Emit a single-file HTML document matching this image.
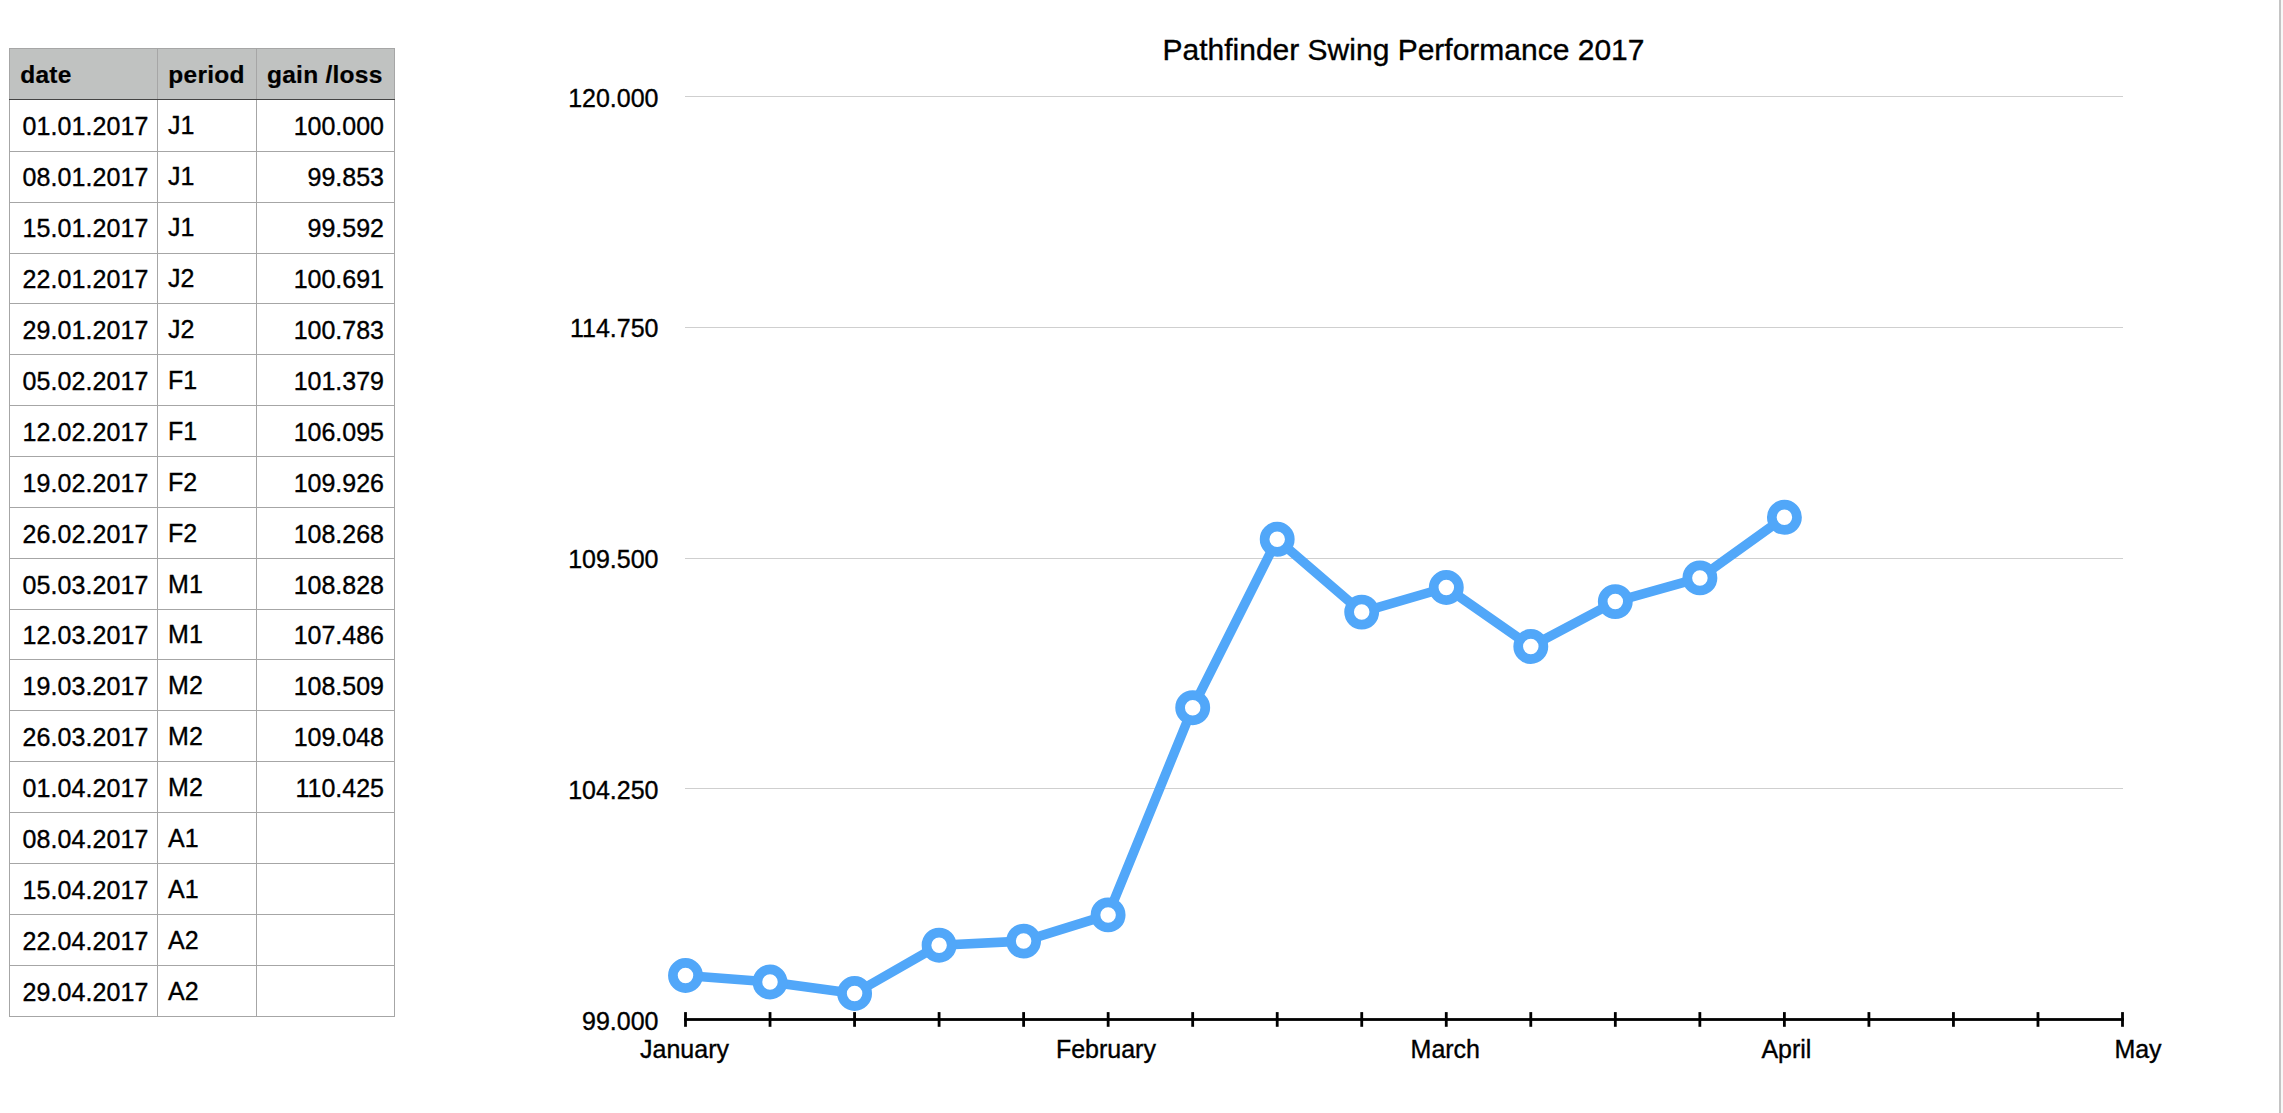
<!DOCTYPE html>
<html lang="en"><head><meta charset="utf-8"><title>Pathfinder Swing Performance 2017</title>
<style>
html,body{margin:0;padding:0;background:#fff;}
body{width:2283px;height:1113px;overflow:hidden;position:relative;font-family:"Liberation Sans",sans-serif;}
svg{position:absolute;left:0;top:0;display:block;}
text{font-family:"Liberation Sans",sans-serif;fill:#000;stroke:#000;stroke-width:.35px;}
.t{font-size:25px;}
.d{font-size:25px;letter-spacing:.1px;}
.h{font-size:24.5px;font-weight:bold;letter-spacing:.25px;stroke-width:.2px;}
.a{font-size:25px;}
.ttl{font-size:30px;}
</style></head><body>
<svg width="2283" height="1113" viewBox="0 0 2283 1113">

<rect x="2279" y="0" width="2" height="1113" fill="#c4c4c4"/><rect x="2281" y="0" width="2" height="1113" fill="#f7f7f7"/>
<g shape-rendering="crispEdges">
<rect x="9" y="48" width="386" height="52" fill="#c0c2c1"/>
<rect x="9" y="151" width="386" height="1" fill="#a6a6a6"/>
<rect x="9" y="202" width="386" height="1" fill="#a6a6a6"/>
<rect x="9" y="253" width="386" height="1" fill="#a6a6a6"/>
<rect x="9" y="303" width="386" height="1" fill="#a6a6a6"/>
<rect x="9" y="354" width="386" height="1" fill="#a6a6a6"/>
<rect x="9" y="405" width="386" height="1" fill="#a6a6a6"/>
<rect x="9" y="456" width="386" height="1" fill="#a6a6a6"/>
<rect x="9" y="507" width="386" height="1" fill="#a6a6a6"/>
<rect x="9" y="558" width="386" height="1" fill="#a6a6a6"/>
<rect x="9" y="609" width="386" height="1" fill="#a6a6a6"/>
<rect x="9" y="659" width="386" height="1" fill="#a6a6a6"/>
<rect x="9" y="710" width="386" height="1" fill="#a6a6a6"/>
<rect x="9" y="761" width="386" height="1" fill="#a6a6a6"/>
<rect x="9" y="812" width="386" height="1" fill="#a6a6a6"/>
<rect x="9" y="863" width="386" height="1" fill="#a6a6a6"/>
<rect x="9" y="914" width="386" height="1" fill="#a6a6a6"/>
<rect x="9" y="965" width="386" height="1" fill="#a6a6a6"/>
<rect x="9" y="1016" width="386" height="1" fill="#a6a6a6"/>
<rect x="9" y="48" width="1" height="969" fill="#a6a6a6"/>
<rect x="157" y="48" width="1" height="969" fill="#a6a6a6"/>
<rect x="256" y="48" width="1" height="969" fill="#a6a6a6"/>
<rect x="394" y="48" width="1" height="969" fill="#a6a6a6"/>
<rect x="9" y="48" width="386" height="1" fill="#a6a6a6"/>
<rect x="9" y="99" width="386" height="1" fill="#444"/>
</g>
<text class="h" x="20.2" y="82.8">date</text>
<text class="h" x="168.3" y="82.8">period</text>
<text class="h" x="267.0" y="82.8">gain /loss</text>
<text class="d" x="22.4" y="135.2">01.01.2017</text>
<text class="t" x="168.1" y="134.2">J1</text>
<text class="t" x="384.0" y="135.2" text-anchor="end">100.000</text>
<text class="d" x="22.4" y="186.1">08.01.2017</text>
<text class="t" x="168.1" y="185.1">J1</text>
<text class="t" x="384.0" y="186.1" text-anchor="end">99.853</text>
<text class="d" x="22.4" y="237.0">15.01.2017</text>
<text class="t" x="168.1" y="236.0">J1</text>
<text class="t" x="384.0" y="237.0" text-anchor="end">99.592</text>
<text class="d" x="22.4" y="288.0">22.01.2017</text>
<text class="t" x="168.1" y="287.0">J2</text>
<text class="t" x="384.0" y="288.0" text-anchor="end">100.691</text>
<text class="d" x="22.4" y="338.9">29.01.2017</text>
<text class="t" x="168.1" y="337.9">J2</text>
<text class="t" x="384.0" y="338.9" text-anchor="end">100.783</text>
<text class="d" x="22.4" y="389.8">05.02.2017</text>
<text class="t" x="168.1" y="388.8">F1</text>
<text class="t" x="384.0" y="389.8" text-anchor="end">101.379</text>
<text class="d" x="22.4" y="440.7">12.02.2017</text>
<text class="t" x="168.1" y="439.7">F1</text>
<text class="t" x="384.0" y="440.7" text-anchor="end">106.095</text>
<text class="d" x="22.4" y="491.6">19.02.2017</text>
<text class="t" x="168.1" y="490.6">F2</text>
<text class="t" x="384.0" y="491.6" text-anchor="end">109.926</text>
<text class="d" x="22.4" y="542.6">26.02.2017</text>
<text class="t" x="168.1" y="541.6">F2</text>
<text class="t" x="384.0" y="542.6" text-anchor="end">108.268</text>
<text class="d" x="22.4" y="593.5">05.03.2017</text>
<text class="t" x="168.1" y="592.5">M1</text>
<text class="t" x="384.0" y="593.5" text-anchor="end">108.828</text>
<text class="d" x="22.4" y="644.4">12.03.2017</text>
<text class="t" x="168.1" y="643.4">M1</text>
<text class="t" x="384.0" y="644.4" text-anchor="end">107.486</text>
<text class="d" x="22.4" y="695.3">19.03.2017</text>
<text class="t" x="168.1" y="694.3">M2</text>
<text class="t" x="384.0" y="695.3" text-anchor="end">108.509</text>
<text class="d" x="22.4" y="746.2">26.03.2017</text>
<text class="t" x="168.1" y="745.2">M2</text>
<text class="t" x="384.0" y="746.2" text-anchor="end">109.048</text>
<text class="d" x="22.4" y="797.2">01.04.2017</text>
<text class="t" x="168.1" y="796.2">M2</text>
<text class="t" x="384.0" y="797.2" text-anchor="end">110.425</text>
<text class="d" x="22.4" y="848.1">08.04.2017</text>
<text class="t" x="168.1" y="847.1">A1</text>
<text class="d" x="22.4" y="899.0">15.04.2017</text>
<text class="t" x="168.1" y="898.0">A1</text>
<text class="d" x="22.4" y="949.9">22.04.2017</text>
<text class="t" x="168.1" y="948.9">A2</text>
<text class="d" x="22.4" y="1000.8">29.04.2017</text>
<text class="t" x="168.1" y="999.8">A2</text>
<text class="ttl" x="1403.5" y="59.5" text-anchor="middle">Pathfinder Swing Performance 2017</text>
<g shape-rendering="crispEdges">
<rect x="685" y="96" width="1438" height="1" fill="#cfcfcf"/>
<rect x="685" y="327" width="1438" height="1" fill="#cfcfcf"/>
<rect x="685" y="558" width="1438" height="1" fill="#cfcfcf"/>
<rect x="685" y="788" width="1438" height="1" fill="#cfcfcf"/>
</g>
<rect x="684.1" y="1018.1" width="1439.8" height="2.8" fill="#000"/>
<rect x="684.10" y="1012.1" width="2.8" height="14.7" fill="#000"/>
<rect x="768.63" y="1012.1" width="2.8" height="14.7" fill="#000"/>
<rect x="853.16" y="1012.1" width="2.8" height="14.7" fill="#000"/>
<rect x="937.69" y="1012.1" width="2.8" height="14.7" fill="#000"/>
<rect x="1022.22" y="1012.1" width="2.8" height="14.7" fill="#000"/>
<rect x="1106.75" y="1012.1" width="2.8" height="14.7" fill="#000"/>
<rect x="1191.28" y="1012.1" width="2.8" height="14.7" fill="#000"/>
<rect x="1275.81" y="1012.1" width="2.8" height="14.7" fill="#000"/>
<rect x="1360.34" y="1012.1" width="2.8" height="14.7" fill="#000"/>
<rect x="1444.86" y="1012.1" width="2.8" height="14.7" fill="#000"/>
<rect x="1529.39" y="1012.1" width="2.8" height="14.7" fill="#000"/>
<rect x="1613.92" y="1012.1" width="2.8" height="14.7" fill="#000"/>
<rect x="1698.45" y="1012.1" width="2.8" height="14.7" fill="#000"/>
<rect x="1782.98" y="1012.1" width="2.8" height="14.7" fill="#000"/>
<rect x="1867.51" y="1012.1" width="2.8" height="14.7" fill="#000"/>
<rect x="1952.04" y="1012.1" width="2.8" height="14.7" fill="#000"/>
<rect x="2036.57" y="1012.1" width="2.8" height="14.7" fill="#000"/>
<rect x="2121.10" y="1012.1" width="2.8" height="14.7" fill="#000"/>
<text class="a" x="658.5" y="106.5" text-anchor="end">120.000</text>
<text class="a" x="658.5" y="337.2" text-anchor="end">114.750</text>
<text class="a" x="658.5" y="568.0" text-anchor="end">109.500</text>
<text class="a" x="658.5" y="798.8" text-anchor="end">104.250</text>
<text class="a" x="658.5" y="1029.5" text-anchor="end">99.000</text>
<text class="a" x="684.5" y="1057.6" text-anchor="middle">January</text>
<text class="a" x="1105.9" y="1057.6" text-anchor="middle">February</text>
<text class="a" x="1445.3" y="1057.6" text-anchor="middle">March</text>
<text class="a" x="1786.4" y="1057.6" text-anchor="middle">April</text>
<text class="a" x="2138" y="1057.6" text-anchor="middle">May</text>
<polyline fill="none" stroke="#51a7f9" stroke-width="9.5" stroke-linejoin="round" points="685.5,975.5 770.0,982.0 854.6,993.5 939.1,945.2 1023.6,941.1 1108.1,914.9 1192.7,707.7 1277.2,539.3 1361.7,612.1 1446.3,587.5 1530.8,646.5 1615.3,601.6 1699.9,577.9 1784.4,517.3"/>
<circle cx="685.5" cy="975.5" r="12.6" fill="#fff" stroke="#51a7f9" stroke-width="9.7"/>
<circle cx="770.0" cy="982.0" r="12.6" fill="#fff" stroke="#51a7f9" stroke-width="9.7"/>
<circle cx="854.6" cy="993.5" r="12.6" fill="#fff" stroke="#51a7f9" stroke-width="9.7"/>
<circle cx="939.1" cy="945.2" r="12.6" fill="#fff" stroke="#51a7f9" stroke-width="9.7"/>
<circle cx="1023.6" cy="941.1" r="12.6" fill="#fff" stroke="#51a7f9" stroke-width="9.7"/>
<circle cx="1108.1" cy="914.9" r="12.6" fill="#fff" stroke="#51a7f9" stroke-width="9.7"/>
<circle cx="1192.7" cy="707.7" r="12.6" fill="#fff" stroke="#51a7f9" stroke-width="9.7"/>
<circle cx="1277.2" cy="539.3" r="12.6" fill="#fff" stroke="#51a7f9" stroke-width="9.7"/>
<circle cx="1361.7" cy="612.1" r="12.6" fill="#fff" stroke="#51a7f9" stroke-width="9.7"/>
<circle cx="1446.3" cy="587.5" r="12.6" fill="#fff" stroke="#51a7f9" stroke-width="9.7"/>
<circle cx="1530.8" cy="646.5" r="12.6" fill="#fff" stroke="#51a7f9" stroke-width="9.7"/>
<circle cx="1615.3" cy="601.6" r="12.6" fill="#fff" stroke="#51a7f9" stroke-width="9.7"/>
<circle cx="1699.9" cy="577.9" r="12.6" fill="#fff" stroke="#51a7f9" stroke-width="9.7"/>
<circle cx="1784.4" cy="517.3" r="12.6" fill="#fff" stroke="#51a7f9" stroke-width="9.7"/>
</svg></body></html>
